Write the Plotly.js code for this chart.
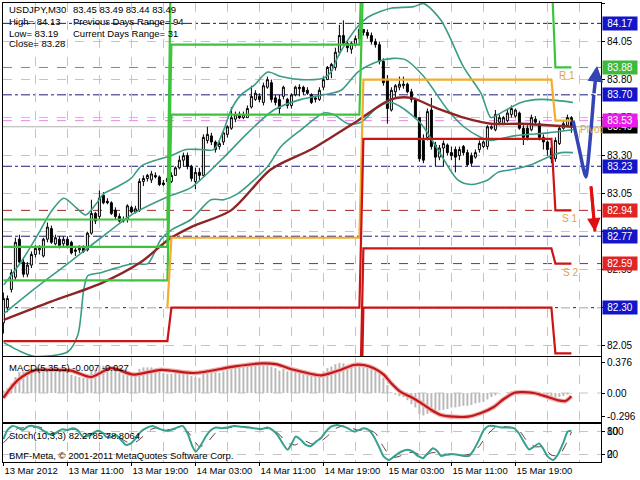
<!DOCTYPE html>
<html><head><meta charset="utf-8">
<script src="https://cdn.plot.ly/plotly-3.0.1.min.js"></script>
<style>html,body{margin:0;padding:0;background:#fff}#chart{width:640px;height:480px}</style>
</head><body><div id="chart"></div>
<script>
// ---------- price data (M30 bars, index 0 = 13 Mar 2012 03:00) ----------
const openP = [
82.20,82.30,82.42,82.50,82.75,82.60,82.52,82.58,82.65,82.68,
82.64,82.75,82.82,82.72,82.75,82.72,82.75,82.73,82.67,82.68,
82.69,82.68,82.79,82.92,82.90,83.04,83.00,82.99,82.94,82.90,
82.88,82.88,82.96,82.93,82.94,83.13,83.15,83.14,83.17,83.16,
83.12,83.13,83.13,83.17,83.22,83.27,83.30,83.23,83.13,83.19,
83.17,83.40,83.43,83.39,83.36,83.39,83.44,83.48,83.54,83.57,
83.55,83.55,83.62,83.67,83.69,83.65,83.75,83.78,83.68,83.67,
83.69,83.67,83.63,83.70,83.74,83.75,83.73,83.70,83.67,83.67,
83.75,83.80,83.86,83.88,83.98,84.09,84.04,84.00,84.03,84.07,
84.13,84.11,84.09,84.05,84.03,83.92,83.80,83.60,83.72,83.75,
83.76,83.77,83.72,83.67,83.55,83.40,83.42,83.60,83.37,83.29,
83.35,83.37,83.32,83.34,83.30,83.36,83.32,83.30,83.29,83.34,
83.36,83.36,83.48,83.47,83.52,83.51,83.53,83.57,83.56,83.58,
83.48,83.48,83.47,83.54,83.51,83.42,83.39,83.35,83.28,83.38,
83.48,83.50,83.55];
const highP = [
82.40,82.38,82.55,82.76,82.78,82.63,82.60,82.67,82.71,82.71,
82.76,82.86,82.84,82.78,82.77,82.77,82.77,82.74,82.70,82.71,
82.71,82.80,83.01,82.93,83.07,83.06,83.02,83.00,82.96,82.92,
82.90,82.98,82.97,82.97,83.15,83.17,83.18,83.20,83.19,83.17,
83.14,83.16,83.19,83.23,83.30,83.32,83.32,83.24,83.22,83.22,
83.44,83.49,83.45,83.40,83.40,83.47,83.50,83.62,83.59,83.59,
83.59,83.63,83.76,83.73,83.71,83.78,83.82,83.80,83.70,83.70,
83.76,83.68,83.71,83.76,83.77,83.76,83.75,83.71,83.69,83.75,
83.82,83.89,83.91,84.01,84.16,84.19,84.06,84.05,84.09,84.15,
84.13,84.13,84.11,84.07,84.05,83.94,83.83,83.75,83.77,83.82,
83.82,83.78,83.74,83.68,83.55,83.44,83.61,83.68,83.39,83.37,
83.40,83.38,83.36,83.36,83.36,83.37,83.34,83.32,83.34,83.40,
83.40,83.50,83.50,83.60,83.57,83.56,83.60,83.63,83.61,83.59,
83.50,83.50,83.57,83.56,83.53,83.44,83.40,83.36,83.42,83.50,
83.53,83.57,83.56];
const lowP = [
82.13,82.27,82.40,82.48,82.58,82.50,82.50,82.56,82.63,82.65,
82.63,82.73,82.72,82.71,82.69,82.70,82.69,82.65,82.64,82.66,
82.66,82.67,82.78,82.85,82.88,82.98,82.98,82.91,82.88,82.86,
82.86,82.86,82.92,82.92,82.93,83.10,83.13,83.12,83.15,83.10,
83.10,83.11,83.12,83.17,83.21,83.23,83.21,83.13,83.08,83.14,
83.16,83.38,83.37,83.32,83.34,83.37,83.42,83.47,83.52,83.54,
83.54,83.55,83.61,83.66,83.65,83.63,83.74,83.65,83.63,83.57,
83.67,83.61,83.61,83.69,83.69,83.70,83.70,83.64,83.65,83.66,
83.73,83.80,83.81,83.86,83.96,84.03,83.98,83.97,84.02,84.06,
84.09,84.07,84.03,84.01,83.90,83.76,83.51,83.59,83.68,83.73,
83.74,83.71,83.65,83.54,83.26,83.25,83.40,83.34,83.23,83.27,
83.23,83.30,83.27,83.19,83.27,83.30,83.23,83.23,83.28,83.32,
83.35,83.34,83.47,83.46,83.50,83.50,83.52,83.55,83.55,83.47,
83.37,83.40,83.46,83.50,83.40,83.34,83.30,83.25,83.26,83.37,
83.47,83.49,83.45];
const closeP = [
82.36,82.36,82.53,82.73,82.60,82.52,82.58,82.65,82.69,82.69,
82.75,82.83,82.73,82.76,82.71,82.75,82.71,82.66,82.68,82.69,
82.67,82.79,82.92,82.87,83.02,82.99,82.99,82.92,82.90,82.87,
82.87,82.97,82.93,82.95,83.13,83.15,83.17,83.18,83.16,83.11,
83.11,83.15,83.17,83.22,83.27,83.30,83.23,83.15,83.19,83.17,
83.42,83.44,83.39,83.34,83.38,83.45,83.49,83.55,83.57,83.55,
83.57,83.61,83.69,83.71,83.67,83.76,83.80,83.67,83.65,83.61,
83.75,83.63,83.70,83.75,83.75,83.72,83.71,83.65,83.68,83.73,
83.80,83.88,83.90,83.98,84.09,84.04,84.01,84.04,84.07,84.13,
84.11,84.09,84.05,84.03,83.92,83.78,83.61,83.73,83.76,83.77,
83.77,83.72,83.67,83.55,83.28,83.27,83.59,83.36,83.29,83.35,
83.38,83.32,83.30,83.29,83.34,83.32,83.24,83.25,83.32,83.38,
83.39,83.49,83.49,83.57,83.55,83.55,83.58,83.61,83.60,83.48,
83.42,83.42,83.55,83.52,83.42,83.39,83.34,83.28,83.40,83.48,
83.51,83.55,83.49];

// ---------- x-axis labels ----------
const tickBars = [0,16,32,48,64,80,96,112,128];
const tickLabels = ["13 Mar 2012","13 Mar 11:00","13 Mar 19:00","14 Mar 03:00","14 Mar 11:00","14 Mar 19:00","15 Mar 03:00","15 Mar 11:00","15 Mar 19:00"];
const priceTicks = [84.30,84.05,83.80,83.55,83.30,83.05,82.80,82.55,82.30,82.05];

// ---------- daily pivot levels ----------
const dayStart = [0,42,90,138];
const dayEnd   = [41,89,137,142];
const pivR3 = [82.88,84.84,85.63,84.81];
const pivR2 = [82.70,84.03,84.91,84.47];
const pivR1 = [82.48,83.57,84.52,83.88];
const pivP  = [82.30,82.76,83.80,83.53];
const pivS1 = [82.08,82.30,83.41,82.94];
const pivS2 = [81.90,81.49,82.69,82.59];
const pivS3 = [81.68,81.03,82.30,82.00];

// today's horizontal levels
const midLevels = [84.17,83.70,83.23,82.77,82.30];
const r1Level = 83.88, pivotLevel = 83.53, s1Level = 82.94, s2Level = 82.59, bidPrice = 83.49;

// ---------- Bollinger bands & moving average (sampled points) ----------
const bbUpperX = [0.1,4.4,8.6,11.9,15.1,18.1,20.6,23.1,25.1,28.1,31.9,34.4,38.1,41.9,45.6,49.4,52.6,55.1,56.9,59.4,62.6,66.1,69.4,74.4,80.1,81.9,83.6,86.1,88.6,91.1,94.4,96.9,102.6,105.1,109.4,115.1,119.4,121.9,123.6,129.4,134.4,139.4,142.4];
const bbUpperY = [82.45,82.60,82.78,82.93,83.02,82.96,82.91,82.98,83.05,83.09,83.15,83.23,83.27,83.30,83.34,83.34,83.34,83.47,83.60,83.70,83.76,83.85,83.82,83.80,83.81,83.85,83.95,84.06,84.15,84.21,84.25,84.27,84.28,84.30,84.19,83.88,83.71,83.55,83.57,83.65,83.67,83.66,83.65];
const bbMidX = [0.1,7.6,16.1,24.4,32.6,41.1,46.9,54.4,61.1,67.6,74.4,80.1,84.4,88.6,93.6,97.4,100.6,105.1,111.1,115.1,119.4,121.9,127.6,136.1,142.4];
const bbMidY = [82.26,82.42,82.59,82.76,82.92,83.03,83.09,83.27,83.45,83.60,83.67,83.70,83.73,83.85,83.92,83.94,83.93,83.82,83.60,83.49,83.42,83.40,83.43,83.45,83.47];
const bbLowX = [0.1,4.4,7.6,16.1,18.6,20.1,21.1,24.4,28.1,32.6,36.1,39.4,41.9,46.9,51.9,55.1,58.6,66.1,69.4,74.4,80.1,82.6,86.1,89.4,93.6,96.9,99.4,104.4,108.6,113.6,116.9,121.1,123.6,127.6,131.9,136.1,139.4,142.4];
const bbLowY = [82.07,82.01,81.98,82.01,82.12,82.42,82.51,82.53,82.56,82.59,82.59,82.75,82.81,82.88,83.01,83.01,83.05,83.23,83.36,83.47,83.58,83.57,83.51,83.52,83.62,83.65,83.62,83.51,83.34,83.14,83.11,83.14,83.19,83.21,83.24,83.29,83.32,83.32];
const maX = [0.1,11.9,24.4,34.4,41.4,46.9,56.9,66.9,76.9,81.9,88.6,96.9,101.9,107.6,115.1,121.9,129.4,136.1,142.4];
const maY = [82.22,82.34,82.46,82.60,82.75,82.83,82.94,83.21,83.34,83.42,83.53,83.67,83.68,83.62,83.55,83.51,83.51,83.50,83.49];

// ---------- forecast arrows ----------
const fcUpX = [142.4,143.9,145.6,146.9,147.6];
const fcUpY = [83.53,83.35,83.16,83.47,83.70];
const fcUpTip = [148.4,83.89];
const fcDownTail = [146.9,83.10];
const fcDownTip = [147.9,82.80];

// ---------- MACD(5,35,5) ----------
const macdMain = [
0.03,0.06,0.12,0.20,0.26,0.27,0.27,0.28,0.28,0.27,
0.28,0.30,0.29,0.28,0.27,0.26,0.25,0.23,0.21,0.20,
0.19,0.21,0.28,0.29,0.34,0.34,0.33,0.31,0.28,0.25,
0.23,0.24,0.23,0.22,0.30,0.32,0.32,0.32,0.30,0.27,
0.25,0.24,0.24,0.25,0.27,0.28,0.25,0.21,0.20,0.19,
0.27,0.30,0.29,0.26,0.25,0.27,0.29,0.33,0.34,0.33,
0.33,0.34,0.36,0.36,0.35,0.36,0.37,0.33,0.31,0.28,
0.30,0.27,0.28,0.30,0.29,0.27,0.25,0.22,0.21,0.23,
0.27,0.31,0.33,0.36,0.376,0.37,0.35,0.34,0.35,0.36,
0.35,0.34,0.32,0.30,0.27,0.19,0.10,0.01,-0.02,-0.04,
-0.05,-0.09,-0.14,-0.18,-0.26,-0.28,-0.26,-0.25,-0.24,-0.22,
-0.21,-0.20,-0.18,-0.18,-0.17,-0.16,-0.16,-0.15,-0.13,-0.12,
-0.11,-0.08,-0.05,-0.03,-0.01,0.00,0.01,0.02,0.03,0.02,
0.01,0.01,0.02,0.02,0.01,-0.02,-0.04,-0.06,-0.06,-0.05,
-0.04,-0.02,-0.007];
const macdSigX = [0,3.6,7.6,11.9,16.9,21.9,26.9,32.6,39.4,47.6,57.6,64.4,68.1,72.6,79.4,81.9,84.4,87.6,90.1,92.6,95.1,96.9,99.4,101.9,104.4,106.9,109.4,112.6,116.1,119.4,122.6,125.1,127.6,129.4,132.6,136.1,138.6,140.5,142];
const macdSigY = [-0.06,0.16,0.28,0.29,0.28,0.20,0.31,0.23,0.29,0.25,0.33,0.37,0.36,0.29,0.22,0.25,0.29,0.35,0.35,0.31,0.23,0.125,0.01,-0.05,-0.125,-0.21,-0.275,-0.296,-0.296,-0.25,-0.175,-0.075,0.0,0.01,0.0,-0.05,-0.09,-0.10,-0.04];

// ---------- Stochastic(10,3,3) ----------
const stMainX = [0,1,2.3,3.55,4.8,6.05,7.3,8.55,9.8,11.05,12.3,13.55,14.8,16.05,17.3,18.55,19.8,21.05,22.3,23.55,24.8,25.6,26.9,28.1,29.4,30.6,31.9,33.1,34.4,36.05,37.3,38.55,39.8,41.05,42.3,43.55,44.8,46.05,47.3,48.1,49.4,50.6,51.9,53.1,54.4,56.05,57.7,59.4,61.05,62.7,64.4,66.05,67.3,68.55,69.8,71.05,71.9,73.1,74.4,75.6,76.9,78.1,79.4,80.6,81.9,83.1,84.4,86.1,87.6,88.9,90.1,91.4,92.6,93.9,95.1,96.4,97.6,99.4,101.1,102.4,103.6,104.9,106.1,107.4,108.6,109.4,110.6,111.9,113.6,115.1,116.4,117.6,118.9,120.1,121.4,122.6,124.4,126.1,127.6,128.9,130.1,131.4,132.6,133.9,134.9,136.1,137.4,138.6,139.9,141.1,142];
const stMainY = [60,84,95,91,84,93,95,91,84,75,71,80,86,84,89,84,67,68,75,82,77,67,65,71,58,45,49,62,80,91,95,89,84,82,86,91,95,75,40,27,45,67,84,91,89,91,95,93,91,89,86,91,84,71,49,32,45,67,58,45,42,53,63,80,93,97,95,89,80,84,89,84,67,40,14,5,14,27,32,27,16,10,23,36,27,16,19,21,19,16,16,32,58,84,95,95,91,91,89,75,53,33,40,49,36,14,5,19,49,80,82.28];
const stSigX = [0,2,3.5,5,7,9,11,13,15,17,19,21,23,25,27,29,31,33,35,37,39,41,43,45,47,49,51,53,55,57,59,61,63,65,67,69,71,73,75,77,79,81,83,85,87,89,91,93,95,97,99,101,103,105,107,109,111,113,115,117,119,121,123,125,127,129,131,133,135,137,139,141,142];
const stSigY = [50,72,88,90,91,92,84,76,80,86,84,72,72,76,68,64,52,52,68,86,91,85,87,90,68,40,52,76,88,91,93,92,89,88,87,72,50,45,57,48,52,68,88,95,89,83,86,76,40,12,15,25,24,16,24,25,19,20,18,22,42,72,91,93,91,82,54,40,40,18,18,55,78.81];

// ---------- layout helpers (pixel -> paper) ----------
const FONT = 'Liberation Sans, Arial, sans-serif';
const PX = x => (x - 3) / 598;
const PY = y => (462 - y) / 459;
const bars = openP.map((_, i) => i);

function stepLine(levels, firstDay){
  const xs = [], ys = [];
  for (let d = 0; d < levels.length; d++) {
    xs.push(d === 0 && firstDay === 'end' ? dayEnd[d] : dayStart[d], dayEnd[d]);
    ys.push(levels[d], levels[d]);
  }
  return {xs, ys};
}
const traces = [];
traces.push({type:'candlestick', x:bars, open:openP, high:highP, low:lowP, close:closeP,
  xaxis:'x', yaxis:'y', whiskerwidth:0, hoverinfo:'skip',
  increasing:{line:{color:'#000', width:1}, fillcolor:'#ffffff'},
  decreasing:{line:{color:'#000', width:1}, fillcolor:'#000000'}});

function lineTrace(xs, ys, color, width, extra){
  return Object.assign({type:'scatter', mode:'lines', x:xs, y:ys, xaxis:'x', yaxis:'y',
    line:{color:color, width:width}, hoverinfo:'skip'}, extra || {});
}
const smooth = (c, w) => ({line:{color:c, width:w, shape:'spline', smoothing:0.8}});
// Bollinger + MA
traces.push(lineTrace(bbUpperX, bbUpperY, '#3a9c86', 1.6, smooth('#3a9c86', 1.6)));
traces.push(lineTrace(bbMidX, bbMidY, '#3a9c86', 1.6, smooth('#3a9c86', 1.6)));
traces.push(lineTrace(bbLowX, bbLowY, '#3a9c86', 1.6, smooth('#3a9c86', 1.6)));
traces.push(lineTrace(maX, maY, '#8e2525', 2.4, smooth('#8e2525', 2.4)));
// pivots
[[pivR3,'#3cc43c'],[pivR2,'#3cc43c'],[pivR1,'#3cc43c'],[pivP,'#f2ac2e','end'],[pivS1,'#cc1414'],[pivS2,'#cc1414'],[pivS3,'#cc1414']].forEach(([lv,c,f])=>{
  const s = stepLine(lv, f); traces.push(lineTrace(s.xs, s.ys, c, 2.2));
});
// forecast arrows
traces.push(lineTrace(fcUpX, fcUpY, '#3444b4', 3.5, {line:{color:'#3444b4', width:3.5, shape:'spline', smoothing:0.6}}));
traces.push(lineTrace([fcDownTail[0], fcDownTip[0]], [fcDownTail[1], fcDownTip[1]], '#e01010', 3));

// MACD
traces.push({type:'bar', x:bars, y:macdMain, xaxis:'x2', yaxis:'y2', width:0.5,
  marker:{color:'#b9b9b9', line:{width:0}}, hoverinfo:'skip'});
traces.push({type:'scatter', mode:'lines', x:macdSigX, y:macdSigY, xaxis:'x2', yaxis:'y2',
  line:{color:'#f0b0b0', width:4.5, shape:'spline', smoothing:0.8}, hoverinfo:'skip'});
traces.push({type:'scatter', mode:'lines', x:macdSigX, y:macdSigY, xaxis:'x2', yaxis:'y2',
  line:{color:'#c01818', width:2.2, shape:'spline', smoothing:0.8}, hoverinfo:'skip'});
// Stoch
traces.push({type:'scatter', mode:'lines', x:stSigX, y:stSigY, xaxis:'x3', yaxis:'y3',
  line:{color:'#5a3a3a', width:1, dash:'dash', shape:'spline', smoothing:0.6}, hoverinfo:'skip'});
traces.push({type:'scatter', mode:'lines', x:stMainX, y:stMainY, xaxis:'x3', yaxis:'y3',
  line:{color:'#35a08e', width:2, shape:'spline', smoothing:0.6}, hoverinfo:'skip'});

const GRID = '#c4c4c4';
const xBase = {range:[-0.1,149.4], autorange:false, showgrid:true, gridcolor:GRID, griddash:'dash', gridwidth:1,
  tick0:0, dtick:8, zeroline:false, showline:true, mirror:true, linecolor:'#000', linewidth:1,
  showticklabels:false, ticks:'', fixedrange:true, rangeslider:{visible:false}};
const yBase = {side:'right', showline:true, mirror:true, linecolor:'#000', linewidth:1, zeroline:false,
  ticks:'outside', ticklen:3, tickcolor:'#000', tickfont:{family:FONT, size:10, color:'#000'}, fixedrange:true, autorange:false};

const shapes = [];
function hline(v, color, dash, width){
  shapes.push({type:'line', xref:'paper', x0:0, x1:1, yref:'y', y0:v, y1:v, layer:'between',
    line:{color:color, width:width||1, dash:dash}});
}
hline(bidPrice, '#b0b0b0', 'solid');
midLevels.forEach(v => hline(v, '#1c1c7a', 'dashdot'));
hline(r1Level, '#48b048', 'dash');
hline(pivotLevel, '#ee80ee', 'dash');
hline(s1Level, '#a82424', 'dash');
hline(s2Level, '#a82424', 'dash');
shapes.push({type:'line', xref:'paper', x0:0, x1:1, yref:'y2', y0:0, y1:0, layer:'between',
  line:{color:GRID, width:1, dash:'dash'}});

const ann = [];
function txt(x, y, s, extra){
  ann.push(Object.assign({xref:'paper', yref:'paper', x:PX(x), y:PY(y), xanchor:'left', yanchor:'middle',
    text:s, showarrow:false, font:{family:FONT, size:9.5, color:'#000'}}, extra||{}));
}
txt(7, 10, 'USDJPY,M30'); txt(71, 10, '83.45 83.49 83.44 83.49');
txt(7, 21.5, 'High= 84.13'); txt(71, 21.5, 'Previous Days Range= 94');
txt(7, 33, 'Low= 83.19'); txt(71, 33, 'Current Days Range= 31');
txt(7, 44, 'Close= 83.28');
txt(7, 367, 'MACD(5,35,5) -0.007 -0.027');
txt(7, 435, 'Stoch(10,3,3) 82.2785 78.8064');
txt(7, 455, 'BMF-Meta, \u00a9 2001-2011 MetaQuotes Software Corp.');

function lvlLabel(bar, v, s){
  ann.push({xref:'x', yref:'y', x:bar, y:v, xanchor:'left', yanchor:'top', yshift:-1, text:s, showarrow:false,
    font:{family:FONT, size:10, color:'#d8a648'}});
}
lvlLabel(138.5, r1Level, 'R 1');
lvlLabel(139.1, s1Level, 'S 1');
lvlLabel(139.4, s2Level, 'S 2');
lvlLabel(143.6, pivotLevel, 'Pivot');

// arrowheads
ann.push({xref:'x', yref:'y', axref:'x', ayref:'y', x:fcUpTip[0], y:fcUpTip[1], ax:fcUpX[fcUpX.length-1], ay:fcUpY[fcUpY.length-1],
  showarrow:true, arrowhead:2, arrowsize:0.9, arrowwidth:3.5, arrowcolor:'#3444b4', standoff:0, text:''});
ann.push({xref:'x', yref:'y', axref:'x', ayref:'y', x:fcDownTip[0], y:fcDownTip[1], ax:fcDownTail[0], ay:fcDownTail[1],
  showarrow:true, arrowhead:2, arrowsize:0.9, arrowwidth:3, arrowcolor:'#e01010', standoff:0, text:''});

// right-axis price boxes
function box(v, bg){
  ann.push({xref:'paper', x:1, xanchor:'left', xshift:1, yref:'y', y:v, yanchor:'middle', text:v.toFixed(2),
    showarrow:false, bgcolor:bg, width:32, height:11, borderpad:1, align:'center',
    font:{family:FONT, size:10, color:'#fff'}});
}
midLevels.forEach(v => box(v, '#1414c8'));
box(r1Level, '#3cba3c');
box(s1Level, '#e02424');
box(s2Level, '#e02424');
box(bidPrice, '#000000');
box(pivotLevel, '#e81ee8');

// stoch extra scale labels (overlapping like the original)
ann.push({xref:'paper', x:1, xanchor:'left', xshift:4, yref:'y3', y:80, yanchor:'middle', text:'100', showarrow:false, font:{family:FONT, size:10, color:'#000'}});
ann.push({xref:'paper', x:1, xanchor:'left', xshift:4, yref:'y3', y:20, yanchor:'middle', text:'0', showarrow:false, font:{family:FONT, size:10, color:'#000'}});

const layout = {
  width:640, height:480, margin:{l:3, r:39, t:3, b:18, pad:0},
  paper_bgcolor:'#fff', plot_bgcolor:'#fff', showlegend:false, hovermode:false,
  font:{family:FONT, size:10, color:'#000'},
  xaxis: Object.assign({}, xBase, {anchor:'y', domain:[0,1]}),
  xaxis2: Object.assign({}, xBase, {anchor:'y2', domain:[0,1], matches:'x'}),
  xaxis3: Object.assign({}, xBase, {anchor:'y3', domain:[0,1], matches:'x',
    tickmode:'array', tickvals:tickBars, ticktext:tickLabels, showticklabels:true, tickangle:0,
    ticks:'outside', ticklen:3, tickcolor:'#000', ticklabelposition:'outside right',
    tickfont:{family:FONT, size:9.5, color:'#000'},
    minor:{tickmode:'linear', tick0:0, dtick:8, showgrid:true, gridcolor:GRID, griddash:'dash', ticks:''}}),
  yaxis: Object.assign({}, yBase, {anchor:'x', domain:[0.2309,1], range:[81.982,84.304],
    tickmode:'array', tickvals:priceTicks, ticktext:priceTicks.map(v=>v.toFixed(2)),
    showgrid:true, gridcolor:GRID, griddash:'dash'}),
  yaxis2: Object.assign({}, yBase, {anchor:'x2', domain:[0.0871,0.2288], range:[-0.3625,0.45],
    tickmode:'array', tickvals:[0.376,0,-0.296], ticktext:['0.376','0.00','-0.296'], showgrid:false}),
  yaxis3: Object.assign({}, yBase, {anchor:'x3', domain:[0,0.0828], range:[0,100],
    tickmode:'array', tickvals:[80,20], ticktext:['80','20'], showgrid:true, gridcolor:GRID, griddash:'dash'}),
  shapes: shapes, annotations: ann
};
Plotly.newPlot('chart', traces, layout, {staticPlot:true, displayModeBar:false});
</script></body></html>
